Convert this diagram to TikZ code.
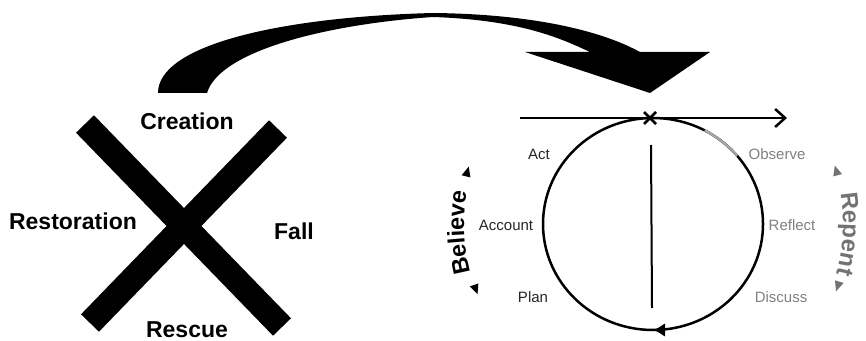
\documentclass[tikz,border=0pt]{standalone}
\usepackage{fontspec}
\setmainfont{Liberation Sans}
\usetikzlibrary{arrows.meta, positioning, decorations.text, decorations.markings}

\begin{document}
\begin{tikzpicture}[x=1pt, y=1pt,
    etapa/.style={font=\fontsize{23}{26}\selectfont\bfseries},
    paso/.style={font=\fontsize{15}{17}\selectfont, text=black!85},
    pasogris/.style={font=\fontsize{15}{17}\selectfont, text=black!50}]
    \useasboundingbox (0,0) rectangle (866,340);

    % Cruz con las etapas
    \draw[line width=25pt] (85,216) -- (282,13);
    \draw[line width=25pt] (278,211) -- (90,17);
    \node (creation) [etapa] at (187,219) {Creation};
    \node (restoration) [etapa] at (73,119) {Restoration};
    \node (fall) [etapa] at (294,109) {Fall};
    \node (rescue) [etapa] at (187,10) {Rescue};

    % Flecha curva hacia el ciclo
    \fill (158,247) .. controls (158,295) and (280,323) .. (433,327)
        .. controls (530,326) and (600,310) .. (640,288)
        -- (710,288) -- (650,247) -- (525,288) -- (590,288)
        .. controls (560,302) and (520,320) .. (433,323)
        .. controls (330,316) and (220,290) .. (207,247) -- cycle;

    % Ciclo
    \coordinate (centro) at (653,116);
    \draw[line width=2.5pt, postaction={decorate},
        decoration={markings, mark=at position 0.75 with {\arrowreversed{Latex[length=12pt, width=14pt]}}}]
        (centro) ellipse [x radius=110pt, y radius=106pt];
    \draw[black!35, line width=2.5pt] ([shift={(centro)}]62:110pt and 106pt)
        arc[start angle=62, end angle=40, x radius=110pt, y radius=106pt];

    % Linea horizontal y marca
    \coordinate (inicio) at (520,222);
    \coordinate (fin) at (787,222);
    \draw[line width=2.5pt, -{Straight Barb[length=10pt, width=18pt]}] (inicio) -- (fin);
    \draw[line width=2.5pt] (644,228) -- (656,216) (644,216) -- (656,228);
    \draw[line width=2pt] (651,195) -- (652,32);

    % Pasos
    \node (act) [paso] at (539,186) {Act};
    \node (account) [paso] at (506,115) {Account};
    \node (plan) [paso] at (533,43) {Plan};
    \node (observe) [pasogris] at (777,186) {Observe};
    \node (reflect) [pasogris] at (792,115) {Reflect};
    \node (discuss) [pasogris] at (781,43) {Discuss};

    % Believe y Repent
    \path[decorate, decoration={text along path, text align=center,
        text={|\fontsize{23.5}{24}\selectfont\bfseries|Believe}}]
        ([shift={(centro)}]214:189pt) arc[start angle=214, end angle=151, radius=189pt];
    \path[decorate, decoration={text along path, text align=center, text color=black!55,
        text={|\fontsize{24}{24}\selectfont\bfseries|Repent}}]
        ([shift={(centro)}]25:190pt) arc[start angle=25, end angle=-31, radius=190pt];
    \begin{scope}[shift={(centro)}]
        \fill (162.7:193) -- (165.7:188.5) -- (165.7:197.5) -- cycle;
        \fill (201.8:189) -- (198.8:184.5) -- (198.8:193.5) -- cycle;
        \fill[black!55] (17.8:191) -- (14.8:186.5) -- (14.8:195.5) -- cycle;
        \fill[black!55] (-20.2:195) -- (-17.2:190.5) -- (-17.2:199.5) -- cycle;
    \end{scope}
\end{tikzpicture}
\end{document}
